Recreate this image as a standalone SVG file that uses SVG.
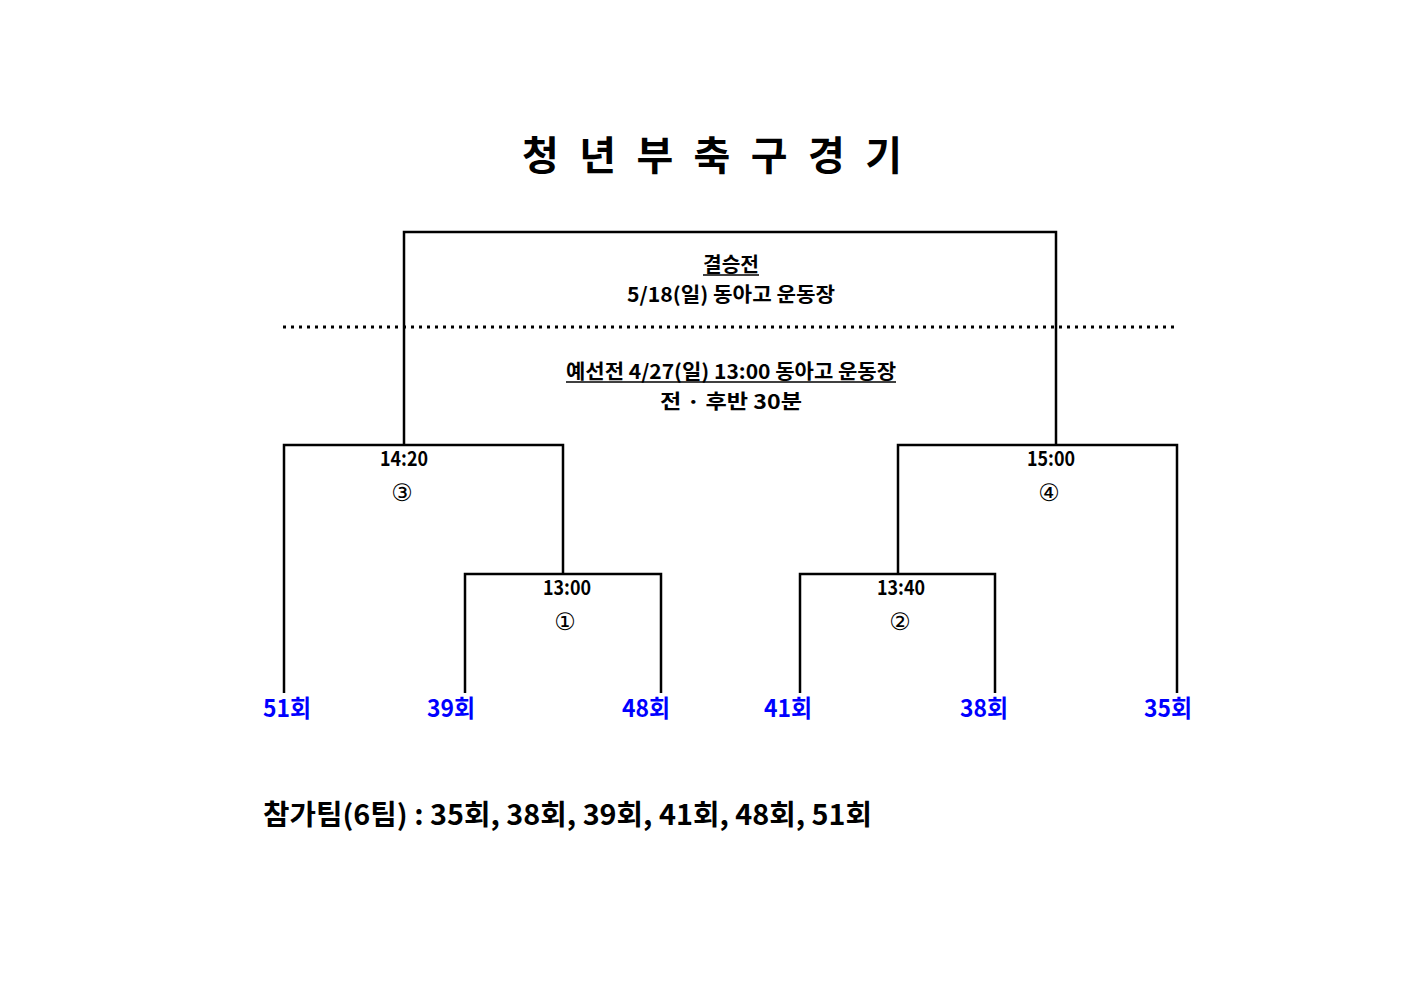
<svg xmlns="http://www.w3.org/2000/svg" width="1403" height="992" viewBox="0 0 1403 992">
<style>
.t{font-family:"Noto Sans CJK KR",sans-serif;font-weight:bold;fill:#000;text-anchor:middle}
.team{font-family:"Noto Sans CJK KR",sans-serif;font-weight:bold;fill:#0000ff;font-size:24px;text-anchor:middle}
.c{font-family:"DejaVu Sans",sans-serif;font-size:24px;text-anchor:middle}
.ln{stroke:#000;stroke-width:2.5;fill:none}
</style>
<rect width="1403" height="992" fill="#fff"/>
<text class="t" x="712" y="170" font-size="40" textLength="380" lengthAdjust="spacing">청 년 부  축 구 경 기</text>
<g id="connectors">
<path class="ln" d="M404 445V232H1056V445"/>
<path class="ln" d="M284 693V445H563V574"/>
<path class="ln" d="M465 693V574H661V693"/>
<path class="ln" d="M1177 693V445H898V574"/>
<path class="ln" d="M800 693V574H995V693"/>
<line x1="283" y1="327" x2="1178" y2="327" stroke="#000" stroke-width="3" stroke-dasharray="3,5"/>
</g>
<g id="info">
<text class="t" x="731" y="272" font-size="20" textLength="56" lengthAdjust="spacingAndGlyphs">결승전</text>
<line x1="703" y1="275" x2="759" y2="275" stroke="#000" stroke-width="1.5"/>
<text class="t" x="731" y="302" font-size="20" textLength="208" lengthAdjust="spacingAndGlyphs">5/18(일)   동아고 운동장</text>
<text class="t" x="731" y="379" font-size="20" textLength="330" lengthAdjust="spacingAndGlyphs">예선전 4/27(일)   13:00 동아고 운동장</text>
<line x1="566" y1="382" x2="896" y2="382" stroke="#000" stroke-width="1.5"/>
<text class="t" x="731" y="409" font-size="20" textLength="142" lengthAdjust="spacingAndGlyphs">전  ·  후반 30분</text>
</g>
<g id="m3"><text class="t" x="404" y="466" font-size="20" textLength="48" lengthAdjust="spacingAndGlyphs">14:20</text><text class="c" x="402" y="501">③</text></g>
<g id="m4"><text class="t" x="1051" y="466" font-size="20" textLength="48" lengthAdjust="spacingAndGlyphs">15:00</text><text class="c" x="1049" y="501">④</text></g>
<g id="m1"><text class="t" x="567" y="595" font-size="20" textLength="48" lengthAdjust="spacingAndGlyphs">13:00</text><text class="c" x="565" y="630">①</text></g>
<g id="m2"><text class="t" x="901" y="595" font-size="20" textLength="48" lengthAdjust="spacingAndGlyphs">13:40</text><text class="c" x="900" y="630">②</text></g>
<g id="teams">
<text class="team" x="287" y="717" textLength="48" lengthAdjust="spacingAndGlyphs">51회</text>
<text class="team" x="451" y="717" textLength="48" lengthAdjust="spacingAndGlyphs">39회</text>
<text class="team" x="646" y="717" textLength="48" lengthAdjust="spacingAndGlyphs">48회</text>
<text class="team" x="788" y="717" textLength="48" lengthAdjust="spacingAndGlyphs">41회</text>
<text class="team" x="984" y="717" textLength="48" lengthAdjust="spacingAndGlyphs">38회</text>
<text class="team" x="1168" y="717" textLength="48" lengthAdjust="spacingAndGlyphs">35회</text>
</g>
<text class="t" x="263" y="825" font-size="28" text-anchor="start" style="text-anchor:start" textLength="609" lengthAdjust="spacingAndGlyphs">참가팀(6팀) : 35회, 38회, 39회, 41회, 48회, 51회</text>
</svg>
